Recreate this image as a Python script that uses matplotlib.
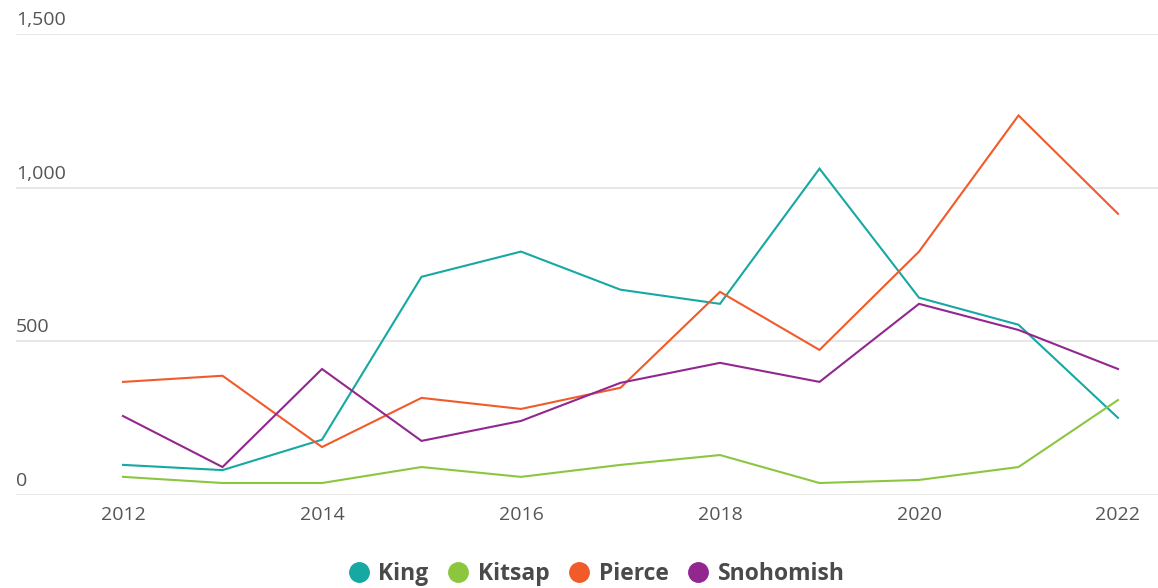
import matplotlib
matplotlib.use("Agg")
import matplotlib.pyplot as plt
from matplotlib.lines import Line2D
import matplotlib.transforms as mtransforms

years = [2012, 2013, 2014, 2015, 2016, 2017, 2018, 2019, 2020, 2021, 2022]
king = [98, 81, 180, 710, 792, 668, 622, 1062, 642, 554, 251]
kitsap = [59, 39, 39, 91, 59, 98, 130, 39, 49, 91, 309]
pierce = [368, 388, 156, 316, 280, 349, 661, 472, 792, 1235, 915]
snohomish = [257, 91, 410, 176, 241, 365, 430, 368, 622, 537, 410]

series_names = ["King", "Kitsap", "Pierce", "Snohomish"]
series_values = [king, kitsap, pierce, snohomish]
colors = ["#16a8a3", "#8cc63f", "#f15a29", "#92278f"]
y_ticks = [0, 500, 1000, 1500]
y_tick_labels = ["0", "500", "1,000", "1,500"]
x_ticks = [2012, 2014, 2016, 2018, 2020, 2022]

plt.rcParams['font.family'] = ['Open Sans', 'DejaVu Sans']

fig = plt.figure(figsize=(11.58, 5.88), dpi=100)
W, H = 1158, 588
left_px, right_px, top_px, bottom_px = 16, 1158, 34, 495
ax = fig.add_axes([left_px / W, (H - bottom_px) / H, (right_px - left_px) / W, (bottom_px - top_px) / H])

for name, vals, c in zip(series_names, series_values, colors):
    ax.plot(years, vals, color=c, lw=1.5, solid_joinstyle='miter', zorder=3)

ax.set_ylim(0, 1500)
x0 = 2012 - (123 - left_px) / 99.5
x1 = 2022 + (right_px - 1118) / 99.5
ax.set_xlim(x0, x1)

for s in ax.spines.values():
    s.set_visible(False)
ax.set_yticks([])
ax.set_xticks(x_ticks)
ax.set_xticklabels([str(x) for x in x_ticks], color="#555555", fontsize=14)
ax.tick_params(axis='x', length=0, pad=8)

for yv in y_ticks:
    ax.axhline(yv, color="#e3e3e3", lw=1.2, zorder=1)

trans = mtransforms.blended_transform_factory(ax.transAxes, ax.transData)
offset = mtransforms.ScaledTranslation(0, 5 / 100, fig.dpi_scale_trans)
for yv, lab in zip(y_ticks, y_tick_labels):
    ax.text(0, yv, lab, transform=trans + offset, ha='left', va='bottom',
            color="#555555", fontsize=14)

handles = [Line2D([], [], marker='o', linestyle='none', markersize=14,
                  markerfacecolor=c, markeredgecolor=c) for c in colors]
fig.legend(handles, series_names, loc='center', bbox_to_anchor=(595 / W, 1 - 574 / H),
           ncol=4, frameon=False, handletextpad=0.25, columnspacing=0.7,
           prop={'weight': 'bold', 'size': 16.5}, labelcolor="#4a4a4a", handlelength=1.2)

fig.savefig("out.png", dpi=100, facecolor="white")
